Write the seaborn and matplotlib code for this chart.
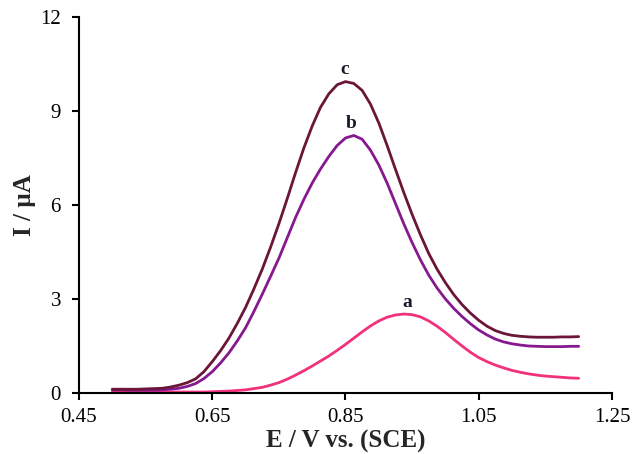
import numpy as np
import pandas as pd
import matplotlib
matplotlib.use("Agg")
import matplotlib.pyplot as plt
import seaborn as sns

# Potential (V vs SCE)
E = [0.5000, 0.5125, 0.5250, 0.5375, 0.5500, 0.5625, 0.5750, 0.5875, 0.6000, 0.6125,
     0.6250, 0.6375, 0.6500, 0.6625, 0.6750, 0.6875, 0.7000, 0.7125, 0.7250, 0.7375,
     0.7500, 0.7625, 0.7750, 0.7875, 0.8000, 0.8125, 0.8250, 0.8375, 0.8500, 0.8625,
     0.8750, 0.8875, 0.9000, 0.9125, 0.9250, 0.9375, 0.9500, 0.9625, 0.9750, 0.9875,
     1.0000, 1.0125, 1.0250, 1.0375, 1.0500, 1.0625, 1.0750, 1.0875, 1.1000, 1.1125,
     1.1250, 1.1375, 1.1500, 1.1625, 1.1750, 1.1875, 1.2000]

# Currents (uA)
curve_a = [0.03, 0.03, 0.03, 0.03, 0.03, 0.03, 0.03, 0.03, 0.03, 0.03,
           0.03, 0.03, 0.04, 0.05, 0.06, 0.08, 0.10, 0.14, 0.18, 0.25,
           0.33, 0.44, 0.57, 0.71, 0.86, 1.02, 1.18, 1.36, 1.55, 1.75,
           1.95, 2.14, 2.30, 2.42, 2.49, 2.52, 2.50, 2.43, 2.30, 2.13,
           1.93, 1.71, 1.50, 1.30, 1.13, 1.00, 0.89, 0.80, 0.72, 0.66,
           0.61, 0.57, 0.54, 0.52, 0.50, 0.48, 0.47]
curve_b = [0.10, 0.10, 0.09, 0.09, 0.09, 0.09, 0.10, 0.12, 0.15, 0.21,
           0.30, 0.46, 0.68, 0.96, 1.28, 1.66, 2.08, 2.60, 3.15, 3.72,
           4.30, 4.95, 5.60, 6.18, 6.70, 7.15, 7.55, 7.90, 8.14, 8.22,
           8.10, 7.75, 7.28, 6.70, 6.05, 5.40, 4.80, 4.25, 3.76, 3.35,
           3.00, 2.70, 2.44, 2.21, 2.01, 1.85, 1.72, 1.63, 1.57, 1.53,
           1.50, 1.49, 1.48, 1.48, 1.48, 1.49, 1.49]
curve_c = [0.12, 0.12, 0.12, 0.12, 0.13, 0.14, 0.15, 0.19, 0.25, 0.33,
           0.45, 0.68, 1.00, 1.35, 1.75, 2.22, 2.73, 3.32, 3.95, 4.65,
           5.40, 6.20, 7.03, 7.82, 8.52, 9.12, 9.55, 9.84, 9.94, 9.88,
           9.66, 9.22, 8.62, 7.90, 7.14, 6.40, 5.70, 5.05, 4.45, 3.95,
           3.52, 3.14, 2.82, 2.55, 2.32, 2.13, 1.99, 1.90, 1.84, 1.81,
           1.79, 1.78, 1.78, 1.78, 1.79, 1.79, 1.80]

series_names = ["a", "b", "c"]
series_colors = ["#F2307C", "#86198F", "#6B1538"]
# label anchor positions (E, I) just above each peak
label_pos = [(0.942, 2.62), (0.858, 8.33), (0.849, 10.05)]

x_ticks = [0.45, 0.65, 0.85, 1.05, 1.25]
y_ticks = [0, 3, 6, 9, 12]

df = pd.DataFrame({
    "E": E * 3,
    "I": curve_a + curve_b + curve_c,
    "curve": ["a"] * len(E) + ["b"] * len(E) + ["c"] * len(E),
})

sns.set_style("ticks")
plt.rcParams["font.family"] = ["Liberation Serif", "DejaVu Serif"]

fig = plt.figure(figsize=(6.33, 4.54), dpi=100)
ax = fig.add_axes([0.1248, 0.1344, 0.842, 0.828])

sns.lineplot(data=df, x="E", y="I", hue="curve", hue_order=series_names,
             palette=dict(zip(series_names, series_colors)), linewidth=2.0,
             legend=False, ax=ax, sort=False)

for name, (ex, iy) in zip(series_names, label_pos):
    ax.text(ex, iy, name, ha="center", va="bottom", fontsize=14,
            fontweight="bold", color="#1a1a2e")

ax.set_xlim(0.45, 1.25)
ax.set_ylim(0, 12)
ax.set_xticks(x_ticks)
ax.set_xticklabels([f"{t:.2f}" for t in x_ticks])
ax.set_yticks(y_ticks)
ax.tick_params(axis="both", labelsize=15, direction="out", length=5, width=1.5,
               colors="black")
ax.tick_params(axis="y", pad=8)
ax.tick_params(axis="x", pad=6)
for s in ["top", "right"]:
    ax.spines[s].set_visible(False)
for s in ["left", "bottom"]:
    ax.spines[s].set_linewidth(1.5)
    ax.spines[s].set_color("black")

ax.set_xlabel("E / V vs. (SCE)", fontsize=18, fontweight="bold", labelpad=2)
ax.set_ylabel("I / µA", fontsize=18, fontweight="bold", labelpad=3)

fig.savefig("out.png", dpi=100)
